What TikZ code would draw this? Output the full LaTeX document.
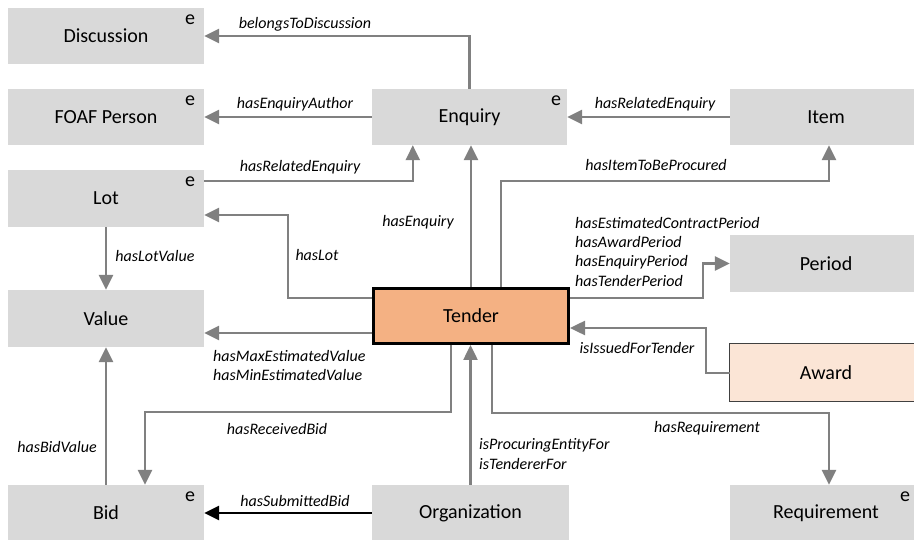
\documentclass[tikz,border=0pt]{standalone}
\usepackage{fontspec}
\setmainfont{Carlito}
\usetikzlibrary{arrows.meta,calc}
\definecolor{boxgray}{HTML}{D9D9D9}
\definecolor{linegray}{HTML}{808080}
\definecolor{tenderfill}{HTML}{F4B183}
\definecolor{awardfill}{HTML}{FBE5D6}
\definecolor{awardline}{HTML}{404040}
\tikzset{
  ent/.style={fill=boxgray, draw=none, inner sep=0pt, font=\fontsize{20}{24}\selectfont},
  elbl/.style={inner sep=0pt, font=\fontsize{16}{19}\selectfont\itshape},
  emark/.style={inner sep=0pt, font=\fontsize{20}{24}\selectfont},
  arr/.style={draw=linegray, line width=2.5pt, -{Triangle[length=15pt,width=14pt,fill=linegray]}},
  blackarr/.style={draw=black, line width=2.5pt, -{Triangle[length=15pt,width=14pt,fill=black]}}
}
\begin{document}
\begin{tikzpicture}[x=1pt,y=-1pt]
\useasboundingbox (0,0) rectangle (914,540);
% entities
\node[ent, minimum width=196pt, minimum height=56pt] (disc) at (106,36) {Discussion};
\node[ent, minimum width=196pt, minimum height=56pt] (foaf) at (106,117) {FOAF Person};
\node[ent, minimum width=196pt, minimum height=57pt] (lot) at (106,198.5) {Lot};
\node[ent, minimum width=196pt, minimum height=57pt] (value) at (106,318.5) {Value};
\node[ent, minimum width=196pt, minimum height=56pt] (bid) at (106,513) {Bid};
\node[ent, minimum width=195pt, minimum height=56pt] (enq) at (469.5,117) {Enquiry};
\node[ent, minimum width=192pt, minimum height=56pt] (item) at (826,117) {Item};
\node[ent, minimum width=192pt, minimum height=57pt] (period) at (826,263.5) {Period};
\node[ent, fill=tenderfill, draw=black, line width=3pt, minimum width=195pt, minimum height=55pt] (tender) at (471,316) {Tender};
\node[ent, fill=awardfill, minimum width=192pt, minimum height=57pt] (award) at (826,372.5) {Award};
\draw[awardline, line width=1pt] ($(award.north east)+(10,0)$) -- (award.north west) -- (award.south west) -- ($(award.south east)+(10,0)$);
\node[ent, minimum width=197pt, minimum height=56pt] (org) at (470.5,513) {Organization};
\node[ent, minimum width=192pt, minimum height=56pt] (req) at (826,513) {Requirement};
% e marks
\node[emark] (e1) at (190,20) {e};
\node[emark] (e2) at (190,101) {e};
\node[emark] (e3) at (190,182) {e};
\node[emark] (e4) at (556,101) {e};
\node[emark] (e5) at (190,497) {e};
\node[emark] (e6) at (905,497) {e};
% connectors
\draw[arr] (enq.north) |- (disc.east);
\draw[arr] (enq.west) -- (foaf.east);
\draw[arr] (item.west) -- (enq.east);
\draw[arr] ($(lot.north east)+(0,11)$) -| ($(enq.south west)+(41,0)$);
\draw[arr] (tender.north) -- (tender.north |- enq.south);
\draw[arr] ($(tender.north west)+(129,0)$) -- ++(0,-106) -| ($(item.south)+(3,0)$);
\draw[arr] ($(tender.west)+(0,-18)$) -- ++(-84,0) |- ($(lot.east)+(0,16.5)$);
\draw[arr] (lot.south) -- (value.north);
\draw[arr] ($(tender.west)+(0,17)$) -- ($(value.east)+(0,14.5)$);
\draw[arr] ($(tender.east)+(0,-18)$) -- ++(133,0) |- (period.west);
\draw[arr] ($(award.west)+(0,0.5)$) -- ++(-24,0) |- ($(tender.east)+(0,12)$);
\draw[arr] ($(tender.south west)+(79,0)$) -- ++(0,67) -| ($(bid.north)+(39,0)$);
\draw[arr] (bid.north) -- (value.south);
\draw[arr] (org.north) -- (org.north |- tender.south);
\draw[arr] ($(tender.south west)+(120,0)$) -- ++(0,68) -| ($(req.north)+(3,0)$);
\draw[blackarr] (org.west) -- (bid.east);
% labels
\node[elbl] (l1) at (305,24) {belongsToDiscussion};
\node[elbl] (l2) at (295,104) {hasEnquiryAuthor};
\node[elbl] (l3) at (655,104) {hasRelatedEnquiry};
\node[elbl] (l4) at (300,167) {hasRelatedEnquiry};
\node[elbl] (l5) at (418,222) {hasEnquiry};
\node[elbl] (l6) at (656,165) {hasItemToBeProcured};
\node[elbl] (l7) at (317,255) {hasLot};
\node[elbl] (l8) at (155,256) {hasLotValue};
\node[elbl, anchor=west] (l9) at (213,356) {hasMaxEstimatedValue};
\node[elbl, anchor=west] (l10) at (213,375) {hasMinEstimatedValue};
\node[elbl, anchor=west] (l11) at (575,223) {hasEstimatedContractPeriod};
\node[elbl, anchor=west] (l12) at (575,242) {hasAwardPeriod};
\node[elbl, anchor=west] (l13) at (575,262) {hasEnquiryPeriod};
\node[elbl, anchor=west] (l14) at (575,281) {hasTenderPeriod};
\node[elbl] (l15) at (637,348) {isIssuedForTender};
\node[elbl] (l16) at (277,429) {hasReceivedBid};
\node[elbl] (l17) at (57,447) {hasBidValue};
\node[elbl, anchor=west] (l18) at (479,445) {isProcuringEntityFor};
\node[elbl, anchor=west] (l19) at (479,464) {isTendererFor};
\node[elbl] (l20) at (707,428) {hasRequirement};
\node[elbl] (l21) at (295,501) {hasSubmittedBid};
\end{tikzpicture}
\end{document}
